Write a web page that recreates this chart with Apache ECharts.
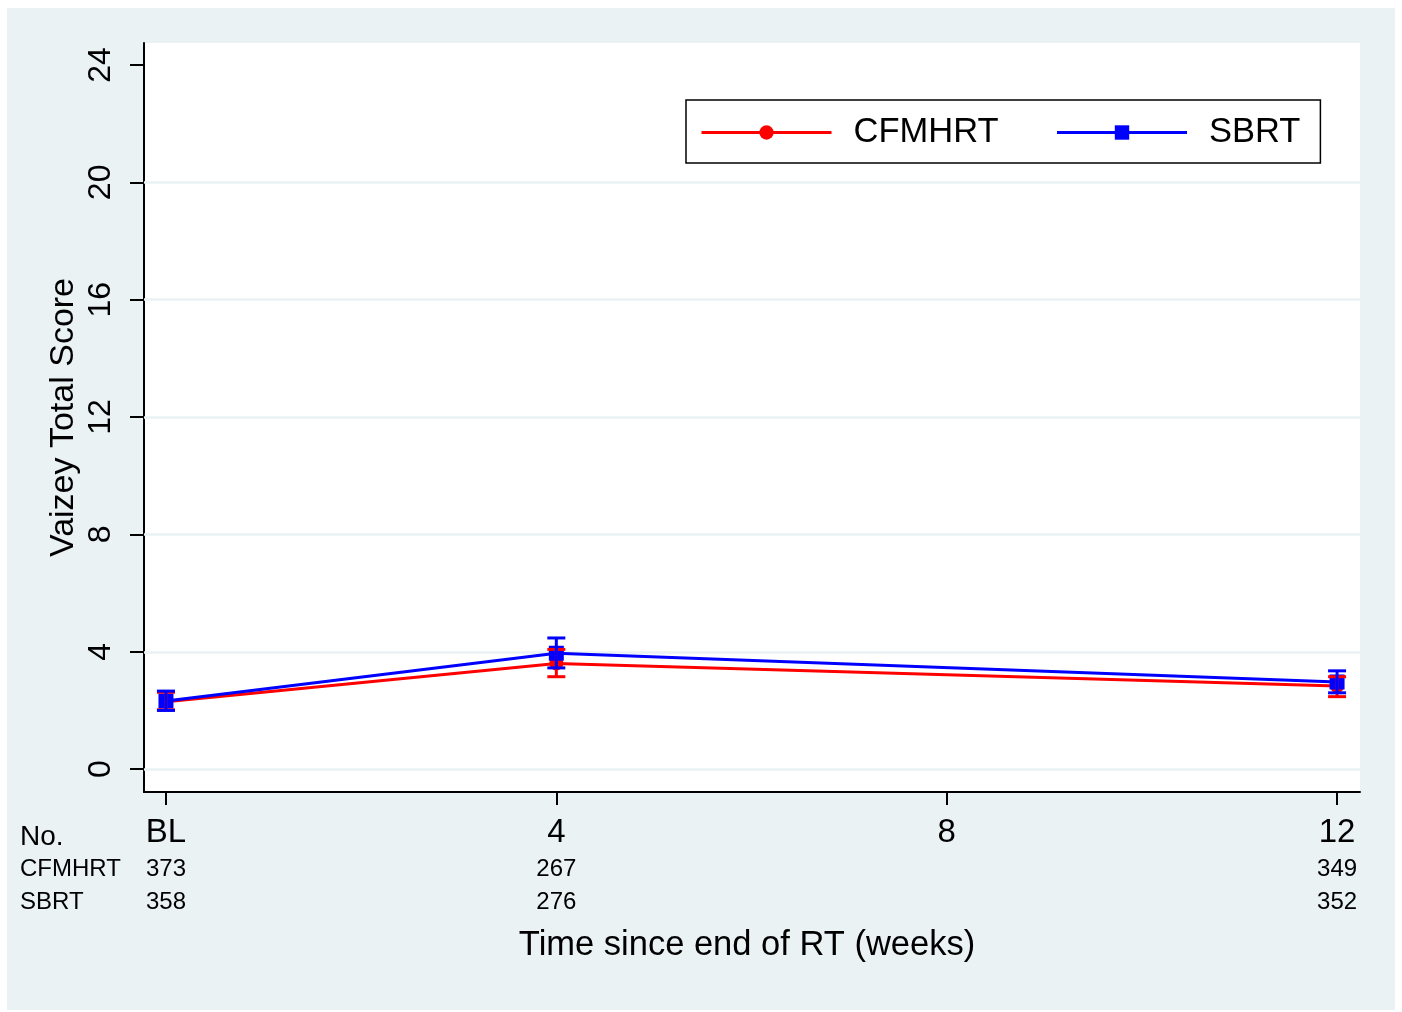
<!DOCTYPE html>
<html>
<head>
<meta charset="utf-8">
<script src="https://cdn.jsdelivr.net/npm/echarts@6/dist/echarts.min.js"></script>
<style>
  html, body { margin: 0; padding: 0; background: #ffffff; }
  #chart { width: 1402px; height: 1012px; }
</style>
</head>
<body>
<div id="chart"></div>
<script>
// Follow-up time points (weeks since end of radiotherapy); 0 = baseline
const weeks = [0, 4, 12];
const xTicks = [0, 4, 8, 12];
const xTickLabels = ['BL', '4', '8', '12'];
const yTicks = [0, 4, 8, 12, 16, 20, 24];
const yGrid = [0, 4, 8, 12, 16, 20];

// Mean Vaizey total score with 95% confidence limits
const cfmhrtMean = [2.30, 3.60, 2.83];
const cfmhrtLow  = [2.02, 3.15, 2.47];
const cfmhrtHigh = [2.62, 4.08, 3.15];
const sbrtMean = [2.32, 3.95, 2.97];
const sbrtLow  = [2.00, 3.45, 2.60];
const sbrtHigh = [2.66, 4.47, 3.35];

// Numbers at risk
const cfmhrtN = [373, 267, 349];
const sbrtN = [358, 276, 352];

const FONT = '"Liberation Sans", Arial, Helvetica, sans-serif';
const RED = '#ff0000';
const BLUE = '#0000ff';

const chart = echarts.init(document.getElementById('chart'), null, { renderer: 'canvas' });

function countFormatter(counts) {
  return function (v) {
    const i = weeks.indexOf(v);
    return i >= 0 ? String(counts[i]) : '';
  };
}

function errorBars(color) {
  return function (params, api) {
    const x = api.value(0);
    const pLo = api.coord([x, api.value(1)]);
    const pHi = api.coord([x, api.value(2)]);
    const w = 9;
    const style = { stroke: color, lineWidth: 3, fill: null };
    return {
      type: 'group',
      children: [
        { type: 'line', shape: { x1: pLo[0], y1: pLo[1], x2: pHi[0], y2: pHi[1] }, style: style },
        { type: 'line', shape: { x1: pLo[0] - w, y1: pLo[1], x2: pLo[0] + w, y2: pLo[1] }, style: style },
        { type: 'line', shape: { x1: pHi[0] - w, y1: pHi[1], x2: pHi[0] + w, y2: pHi[1] }, style: style }
      ]
    };
  };
}

const xMin = -0.225, xMax = 12.235;
const yMin = -0.78, yMax = 24.75;

function countAxis(counts, offset) {
  return {
    type: 'value', gridIndex: 0, position: 'bottom', offset: offset,
    min: xMin, max: xMax,
    axisLine: { show: false }, axisTick: { show: false }, splitLine: { show: false },
    axisLabel: {
      customValues: weeks, formatter: countFormatter(counts), margin: 0,
      fontFamily: FONT, fontSize: 24, lineHeight: 24, color: '#000', hideOverlap: false
    }
  };
}

const option = {
  animation: false,
  backgroundColor: '#ffffff',
  graphic: [
    { type: 'rect', z: -10, shape: { x: 7, y: 8, width: 1388, height: 1002 }, style: { fill: '#eaf2f3' } },
    { type: 'text', left: 20, top: 823, style: { text: 'No.', font: '28px ' + FONT, fill: '#000' } },
    { type: 'text', left: 20, top: 857, style: { text: 'CFMHRT', font: '24px ' + FONT, fill: '#000' } },
    { type: 'text', left: 20, top: 890, style: { text: 'SBRT', font: '24px ' + FONT, fill: '#000' } }
  ],
  grid: {
    left: 144, top: 43, right: 42, bottom: 220,
    show: true, backgroundColor: '#ffffff', borderWidth: 0
  },
  legend: {
    left: 686, top: 100,
    data: ['CFMHRT', 'SBRT'],
    backgroundColor: '#ffffff', borderColor: '#000000', borderWidth: 1.5, borderRadius: 0,
    padding: [15, 20, 13, 14],
    itemGap: 57, itemWidth: 130, itemHeight: 18,
    lineStyle: { width: 3 },
    textStyle: { fontFamily: FONT, fontSize: 34.5, lineHeight: 30, color: '#000', padding: [0, 0, 0, 17] }
  },
  xAxis: [
    {
      type: 'value', gridIndex: 0, position: 'bottom',
      min: xMin, max: xMax,
      name: 'Time since end of RT (weeks)', nameLocation: 'middle', nameGap: 136,
      nameMoveOverlap: false,
      nameTextStyle: { fontFamily: FONT, fontSize: 34.5, lineHeight: 35, color: '#000', padding: [0, 10, 0, 0] },
      axisLine: { show: true, onZero: false, lineStyle: { color: '#000', width: 2 } },
      axisTick: { show: true, customValues: xTicks, length: 13, lineStyle: { color: '#000', width: 2 } },
      axisLabel: {
        customValues: xTicks, margin: 24,
        formatter: function (v) { const i = xTicks.indexOf(v); return i >= 0 ? xTickLabels[i] : ''; },
        fontFamily: FONT, fontSize: 33, lineHeight: 33, color: '#000'
      },
      splitLine: { show: false }
    },
    countAxis(cfmhrtN, 65),
    countAxis(sbrtN, 98)
  ],
  yAxis: {
    type: 'value', min: yMin, max: yMax,
    name: 'Vaizey Total Score', nameLocation: 'middle', nameGap: 63, nameRotate: 90,
    nameMoveOverlap: false,
    nameTextStyle: { fontFamily: FONT, fontSize: 34, lineHeight: 34, color: '#000' },
    axisLine: { show: true, onZero: false, lineStyle: { color: '#000', width: 2 } },
    axisTick: { show: true, customValues: yTicks, length: 14, lineStyle: { color: '#000', width: 2 } },
    axisLabel: {
      customValues: yTicks, rotate: 90, margin: 27,
      fontFamily: FONT, fontSize: 32, lineHeight: 32, color: '#000'
    },
    splitLine: { show: false }
  },
  series: [
    {
      name: 'gridlines', type: 'line', data: [], silent: true,
      markLine: {
        z: 1, silent: true, symbol: ['none', 'none'], animation: false,
        label: { show: false },
        lineStyle: { color: '#eaf2f3', width: 2.5, type: 'solid' },
        emphasis: { disabled: true },
        data: yGrid.map(function (v) { return { yAxis: v }; })
      }
    },
    {
      name: 'CFMHRT', type: 'line', z: 3,
      data: weeks.map(function (w, i) { return [w, cfmhrtMean[i]]; }),
      color: RED,
      symbol: 'circle', symbolSize: 14, showAllSymbol: true,
      lineStyle: { color: RED, width: 3 },
      itemStyle: { color: RED }
    },
    {
      name: 'SBRT', type: 'line', z: 4,
      data: weeks.map(function (w, i) { return [w, sbrtMean[i]]; }),
      color: BLUE,
      symbol: 'rect', symbolSize: 15, showAllSymbol: true,
      lineStyle: { color: BLUE, width: 3 },
      itemStyle: { color: BLUE }
    },
    {
      name: 'CFMHRT 95% CI', type: 'custom', z: 5, silent: true,
      renderItem: errorBars(RED),
      encode: { x: 0, y: [1, 2] },
      data: weeks.map(function (w, i) { return [w, cfmhrtLow[i], cfmhrtHigh[i]]; })
    },
    {
      name: 'SBRT 95% CI', type: 'custom', z: 6, silent: true,
      renderItem: errorBars(BLUE),
      encode: { x: 0, y: [1, 2] },
      data: weeks.map(function (w, i) { return [w, sbrtLow[i], sbrtHigh[i]]; })
    }
  ]
};

chart.setOption(option);
</script>
</body>
</html>
